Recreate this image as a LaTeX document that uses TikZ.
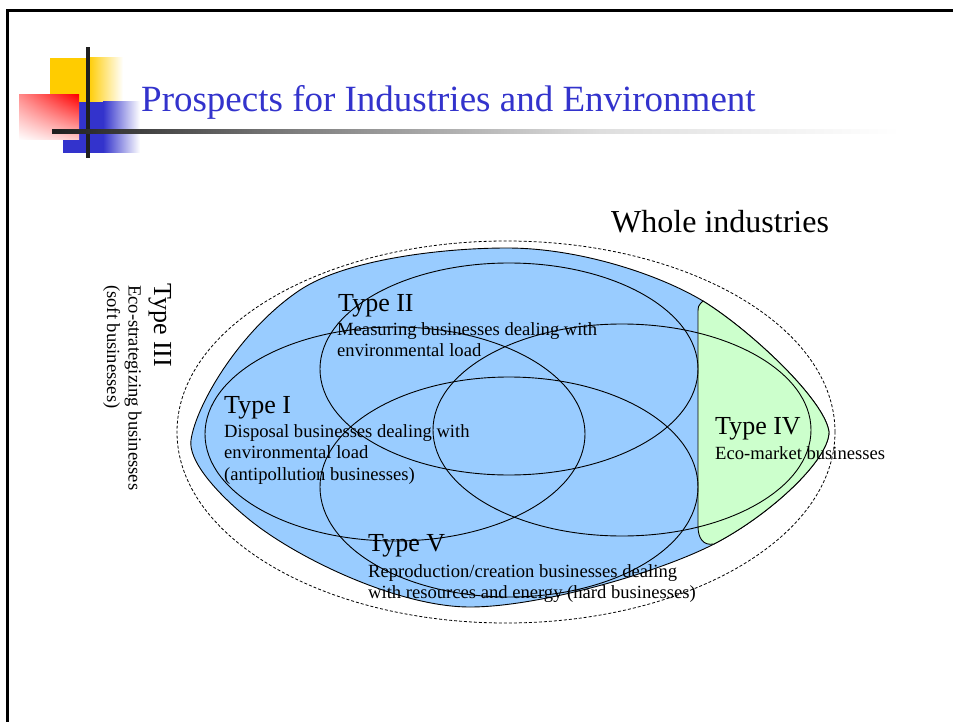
\documentclass[tikz,border=0pt]{standalone}
\usepackage{fontspec}
\setmainfont{Liberation Serif}
\usetikzlibrary{shadings}
\definecolor{lemonblue}{HTML}{99CCFF}
\definecolor{marketgreen}{HTML}{CCFFCC}
\definecolor{titleblue}{HTML}{3333CC}
\definecolor{logoyellow}{HTML}{FFCC00}
\tikzset{
	typehead/.style={inner sep=0pt, anchor=base west, font=\fontsize{26}{30}\selectfont},
	typetext/.style={inner sep=0pt, anchor=base west, align=left, font=\fontsize{18.6}{21.5}\selectfont},
	venn/.style={line width=0.9pt},
}
\begin{document}
\begin{tikzpicture}[x=1pt, y=-1pt]
		%\draw [help lines, step=50] (0,0) grid (953,722);
		\useasboundingbox (0,0) rectangle (953,722);
		%Cornice
		\draw [line width=3pt] (7.5,722) -- (7.5,10.7) -- (953,10.7);
		%Logo
		\fill [logoyellow] (50,58) rectangle (88,102);
		\shade [left color=logoyellow, right color=white] (88,58) rectangle (123,102);
		\fill [titleblue] (63,102) rectangle (103,153);
		\shade [left color=titleblue, right color=white] (103,102) rectangle (140,153);
		\shade [upper right=red, upper left=red!45, lower left=white, lower right=red!20] (19,95) rectangle (79,140);
		\fill [black!88] (86,47) rectangle (90,158);
		\shade [left color=black!88, right color=black!50] (52,130) rectangle (300,134);
		\shade [left color=black!50, right color=black!13] (300,130) rectangle (600,134);
		\shade [left color=black!13, right color=white] (600,130) rectangle (900,134);
		%Titolo
		\node [inner sep=0pt, anchor=base west, text=titleblue, font=\fontsize{37}{44}\selectfont] (title) at (141,112) {Prospects for Industries and Environment};
		%Insieme delle industrie
		\draw [line width=0.8pt, dash pattern=on 3pt off 2pt] (506,432) ellipse [x radius=329pt, y radius=191pt];
		\node [inner sep=0pt, anchor=base west, font=\fontsize{32}{38}\selectfont] (whole) at (611,233) {Whole industries};
		%Regione blu
		\draw [venn, fill=lemonblue] (191,440) .. controls (196,405) and (240,330) .. (300,290)
			.. controls (345,260) and (440,248) .. (507,248)
			.. controls (580,248) and (660,275) .. (703,301)
			.. controls (750,330) and (825,400) .. (829,432)
			.. controls (829,460) and (770,515) .. (714,544)
			.. controls (660,572) and (540,607) .. (470,607)
			.. controls (400,607) and (300,560) .. (251,521)
			.. controls (215,492) and (188,460) .. (191,440) -- cycle;
		%Regione verde
		\draw [venn, fill=marketgreen] (703,301) .. controls (750,330) and (825,400) .. (829,432)
			.. controls (829,460) and (770,515) .. (714,544)
			.. controls (703,546) and (698,538) .. (698,526) -- (698,314)
			.. controls (698,306) .. (703,301) -- cycle;
		%Ellissi
		\draw [venn] (395,434) ellipse [x radius=190pt, y radius=107pt];
		\draw [venn] (509,369) ellipse [x radius=189pt, y radius=106pt];
		\draw [venn] (622,430) ellipse [x radius=189pt, y radius=106pt];
		\draw [venn] (509,487) ellipse [x radius=189pt, y radius=110pt];
		%Etichette (base = ultima riga)
		\node [typehead] (type1) at (224,413) {Type I};
		\node [typetext] (text1) at (224,480) {Disposal businesses dealing with\\environmental load\\(antipollution businesses)};
		\node [typehead] (type2) at (338,311) {Type II};
		\node [typetext] (text2) at (337,356.5) {Measuring businesses dealing with\\environmental load};
		\node [typehead, rotate=-90] (type3) at (154,283) {Type III};
		\node [typetext, rotate=-90] (text3) at (107,285) {Eco-strategizing businesses\\(soft businesses)};
		\node [typehead] (type4) at (715,434) {Type IV};
		\node [typetext] (text4) at (715,459) {Eco-market businesses};
		\node [typehead] (type5) at (368,551) {Type V};
		\node [typetext] (text5) at (368,598.5) {Reproduction/creation businesses dealing\\with resources and energy (hard businesses)};
	\end{tikzpicture}
\end{document}
